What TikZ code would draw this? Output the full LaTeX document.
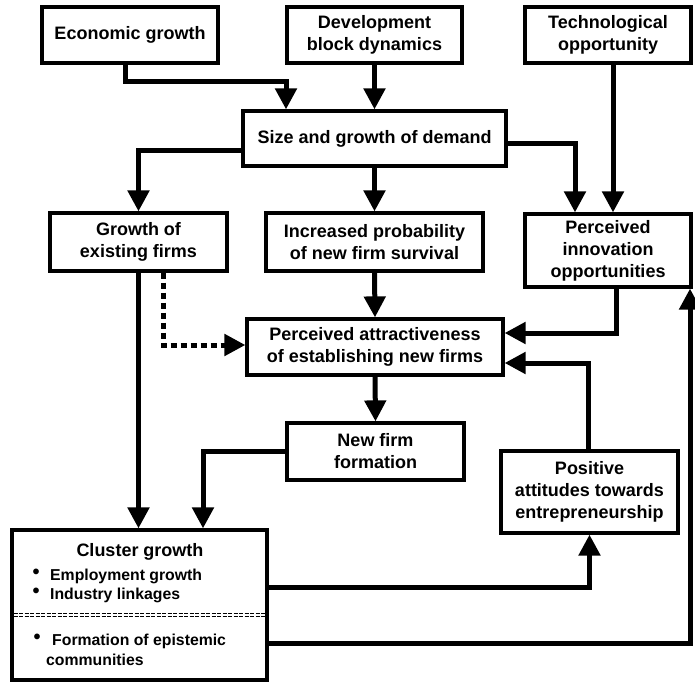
\documentclass[tikz,border=0pt]{standalone}
\usepackage{fontspec}
\setmainfont{Liberation Sans}
\usetikzlibrary{arrows.meta}
\newcommand{\bigbul}{\raisebox{1.5pt}{\fontsize{20}{20}\selectfont\textbullet}}
\tikzset{
  box/.style={draw, line width=3.2pt, align=center, inner sep=0pt,
    font=\bfseries\fontsize{18}{22}\selectfont},
  itemtxt/.style={anchor=west, inner sep=0pt, font=\bfseries\fontsize{15.8}{18}\selectfont},
  arr/.style={line width=5pt, -{Triangle[width=21pt,length=21pt]}},
  dotarr/.style={arr, dash pattern=on 6pt off 4pt},
  sep/.style={line width=1.3pt, dash pattern=on 4pt off 1.5pt}
}
\begin{document}
\begin{tikzpicture}[x=1pt,y=-1pt]
\useasboundingbox (0,0) rectangle (695,682);
% boxes
\node[box, minimum width=176, minimum height=56] (econ) at (130,35) {Economic growth};
\node[box, minimum width=175, minimum height=56] (dev) at (374.5,35) {Development\\block dynamics};
\node[box, minimum width=166, minimum height=56] (tech) at (608,35) {Technological\\opportunity};
\node[box, minimum width=263, minimum height=55] (size) at (374.5,138.5) {Size and growth of demand};
\node[box, minimum width=177, minimum height=58] (grow) at (138.5,242) {Growth of\\existing firms};
\node[box, minimum width=217, minimum height=58] (prob) at (374.5,242) {Increased probability\\of new firm survival};
\node[box, minimum width=166, minimum height=73] (innov) at (608,250.5) {Perceived\\innovation\\opportunities};
\node[box, minimum width=256, minimum height=56] (attr) at (375,347) {Perceived attractiveness\\of establishing new firms};
\node[box, minimum width=177, minimum height=57] (newf) at (375.5,451.5) {New firm\\formation};
\node[box, minimum width=177, minimum height=82] (pos) at (589.5,492) {Positive\\attitudes towards\\entrepreneurship};
\node[box, minimum width=255, minimum height=150] (cluster) at (139.5,605) {};
% cluster contents
\node[inner sep=0pt, font=\bfseries\fontsize{18}{22}\selectfont] (ctitle) at (140,552) {Cluster growth};
\node[itemtxt] (i1) at (32.5,576) {\bigbul\hspace{10.5pt}Employment growth};
\node[itemtxt] (i2) at (32.5,595) {\bigbul\hspace{10.5pt}Industry linkages};
\node[itemtxt] (i3) at (33.5,641) {\bigbul\hspace{11.5pt}Formation of epistemic};
\node[itemtxt] (i4) at (46,660) {communities};
\coordinate (sl) at (13.6,613.5);
\coordinate (sr) at (265.4,613.5);
\draw[sep] (sl) -- (sr);
\draw[sep] ([yshift=-3pt]sl) -- ([yshift=-3pt]sr);
% connectors
\draw[arr] ([xshift=-5pt]econ.south) -- ++(0,17) -| ([xshift=-88.5pt]size.north);
\draw[arr] (dev.south) -- (size.north);
\draw[arr] ([yshift=-11.5pt]size.west) -| (grow.north);
\draw[arr] (size.south) -- (prob.north);
\draw[arr] ([yshift=-4.5pt]size.east) -| ([xshift=-33pt]innov.north);
\draw[arr] ([xshift=5pt]tech.south) -- ([xshift=5pt]innov.north);
\draw[arr] (prob.south) -- (attr.north);
\draw[arr] ([xshift=8pt]innov.south) |- ([yshift=14pt]attr.east);
\draw[arr] ([xshift=-1.5pt]pos.north) |- ([yshift=-16pt]attr.east);
\draw[dotarr] ([xshift=24.5pt]grow.south) |- ([yshift=2pt]attr.west);
\draw[arr] (grow.south) -- (grow.south |- cluster.north);
\draw[arr] (attr.south) -- (newf.north);
\draw[arr] (newf.west) -| ([xshift=63.5pt]cluster.north);
\draw[arr] ([yshift=18pt]cluster.east) -| (pos.south);
\draw[arr] ([yshift=-38pt]cluster.east) -| ([xshift=82pt]innov.south);
\end{tikzpicture}
\end{document}
